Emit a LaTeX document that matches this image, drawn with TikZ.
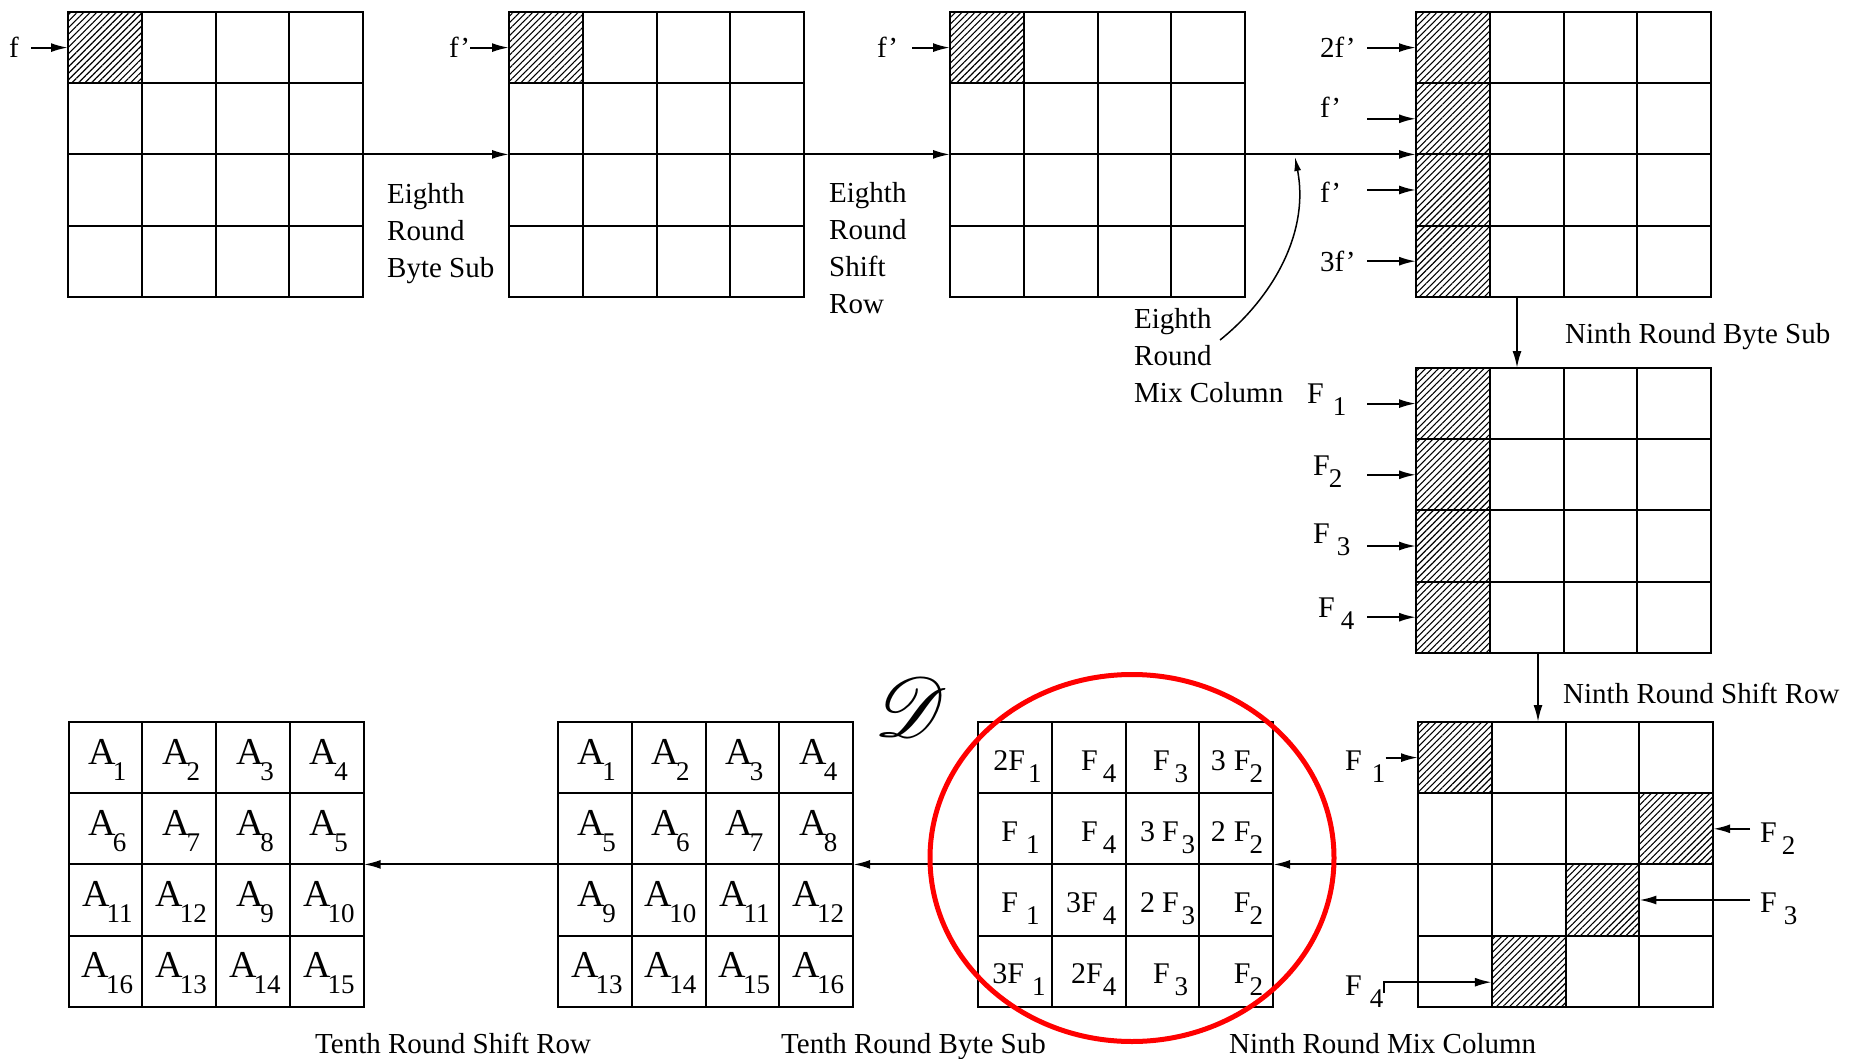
\documentclass[tikz,border=0pt]{standalone}
\usepackage{fontspec}
\setmainfont{Liberation Serif}
\usepackage{mathrsfs}
\usetikzlibrary{arrows.meta,patterns.meta,shapes.geometric,fit}
\newcommand\Fs[3][5pt]{#2\kern#1\raisebox{-12pt}[0pt][0pt]{\fontsize{27}{27}\selectfont #3}}
\newcommand\As[1]{A\kern-3pt\raisebox{-16pt}[0pt][0pt]{\fontsize{27}{27}\selectfont #1}}
\newcommand\mkgrid[3]{%
  \foreach \ri in {1,...,4}{\foreach \ci in {1,...,4}{%
    \node[cellbox] (#1-\ri-\ci) at ({#2+(\ci-0.5)*73.8},{#3+(\ri-0.5)*71.2}) {};}}%
  \node[fit=(#1-1-1)(#1-4-4), inner sep=0pt, outer sep=0pt] (#1) {};}
\begin{document}
\begin{tikzpicture}[x=1pt,y=-1pt,
  cellbox/.style={draw, line width=2pt, minimum width=73.8pt, minimum height=71.2pt, inner sep=0pt, outer sep=0pt},
  hatch/.style={pattern={Lines[angle=45,distance=4.6pt,line width=1.1pt]}},
  arr/.style={line width=2pt, -{Latex[length=17pt,width=9pt]}},
  thinarr/.style={line width=1.5pt, -{Latex[length=14pt,width=7pt]}},
  lbl/.style={font=\fontsize{29}{37}\selectfont, inner sep=0pt},
  flbl/.style={font=\fontsize{30}{30}\selectfont, inner sep=0pt},
  albl/.style={font=\fontsize{38}{38}\selectfont, inner sep=0pt},
  ring/.style={draw=red, line width=5pt, ellipse, inner sep=0pt}]
\useasboundingbox (0,0) rectangle (1849,1059);
% grids
\mkgrid{g1}{68}{12}
\mkgrid{g2}{509}{12}
\mkgrid{g3}{950}{12}
\mkgrid{g4}{1416}{12}
\mkgrid{g5}{1416}{368}
\mkgrid{g6}{1418}{722}
\mkgrid{g7}{978}{722}
\mkgrid{g8}{558}{722}
\mkgrid{g9}{68.5}{722}
% hatched cells
\foreach \n in {g1-1-1,g2-1-1,g3-1-1,g4-1-1,g4-2-1,g4-3-1,g4-4-1,g5-1-1,g5-2-1,g5-3-1,g5-4-1,g6-1-1,g6-2-4,g6-3-3,g6-4-2}
  \draw[hatch, line width=2pt] (\n.north west) rectangle (\n.south east);
% main connectors
\draw[arr] (g1.east) -- (g2.west);
\draw[arr] (g2.east) -- (g3.west);
\draw[arr] (g3.east) -- (g4.west);
\draw[arr] ([xshift=-46.6pt]g4.south) -- ([xshift=-46.6pt]g4.south |- g5.north);
\draw[arr] ([xshift=-25.6pt]g5.south) -- ([xshift=-25.6pt]g5.south |- g6.north);
\draw[arr] (g6.west) -- (g7.east);
\draw[arr] (g7.west) -- (g8.east);
\draw[arr] (g8.west) -- (g9.east);
% top inputs
\node[lbl, anchor=base] (f0) at (14,58) {f};
\draw[arr, shorten <=12pt] (f0.east |- g1-1-1.west) -- (g1-1-1.west);
\node[lbl, anchor=base west] (f1) at (449,58) {f’};
\draw[arr] (f1.east |- g2-1-1.west) -- (g2-1-1.west);
\node[lbl, anchor=base west] (f2) at (877,58) {f’};
\draw[arr, shorten <=14pt] (f2.east |- g3-1-1.west) -- (g3-1-1.west);
% grid 4 inputs
\node[lbl, anchor=base west] (m1) at (1320,58) {2f’};
\node[lbl, anchor=base west] (m2) at (1320,118) {f’};
\node[lbl, anchor=base west] (m3) at (1320,203) {f’};
\node[lbl, anchor=base west] (m4) at (1320,272) {3f’};
\foreach \ri in {1,...,4}
  \draw[arr] ([xshift=-49pt]g4-\ri-1.west) -- (g4-\ri-1.west);
% grid 5 inputs
\node[flbl, anchor=base west] (n1) at (1307,403) {\Fs[9pt]{F}{1}};
\node[flbl, anchor=base west] (n2) at (1313,475) {\Fs[-1pt]{F}{2}};
\node[flbl, anchor=base west] (n3) at (1313,543) {\Fs[7pt]{F}{3}};
\node[flbl, anchor=base west] (n4) at (1318,617) {\Fs[6pt]{F}{4}};
\foreach \ri in {1,...,4}
  \draw[arr] ([xshift=-49pt]g5-\ri-1.west) -- (g5-\ri-1.west);
% grid 6 inputs
\node[flbl, anchor=base west] (p1) at (1345,770) {\Fs[10pt]{F}{1}};
\draw[arr] (p1.east |- g6-1-1.west) -- (g6-1-1.west);
\node[flbl, anchor=base west] (p2) at (1760,842) {\Fs[5pt]{F}{2}};
\draw[arr] ([xshift=-10pt]p2.west |- g6-2-4.east) -- (g6-2-4.east);
\node[flbl, anchor=base west] (p3) at (1760,912) {\Fs[7pt]{F}{3}};
\draw[arr] ([xshift=-10pt]p3.west |- g6-3-3.east) -- (g6-3-3.east);
\node[flbl, anchor=base west] (p4) at (1345,995) {\Fs[8pt]{F}{4}};
\draw[arr] ([yshift=-8pt]p4.east) |- ([yshift=-11pt]g6-4-2.west);
% text labels
\node[lbl, align=left, anchor=north west] (t1) at (387,183) {Eighth\\Round\\Byte Sub};
\node[lbl, align=left, anchor=north west] (t2) at (829,182) {Eighth\\Round\\Shift\\Row};
\node[lbl, align=left, anchor=north west] (t3) at (1134,308) {Eighth\\Round\\Mix Column};
\node[lbl, anchor=base west] (t4) at (1565,343) {Ninth Round Byte Sub};
\node[lbl, anchor=base west] (t5) at (1563,703) {Ninth Round Shift Row};
\node[lbl, anchor=base west] (t6) at (315,1053) {Tenth Round Shift Row};
\node[lbl, anchor=base west] (t7) at (781,1053) {Tenth Round Byte Sub};
\node[lbl, anchor=base west] (t8) at (1229,1053) {Ninth Round Mix Column};
% curved arrow
\coordinate (mixstart) at (1220,340);
\coordinate (mixend) at (1295,157);
\draw[thinarr] (mixstart) .. controls (1270,300) and (1310,235) .. (mixend);
% A grid labels
\foreach \ri/\ci/\t in {1/1/1,1/2/2,1/3/3,1/4/4,2/1/6,2/2/7,2/3/8,2/4/5,3/1/11,3/2/12,3/3/9,3/4/10,4/1/16,4/2/13,4/3/14,4/4/15}
  \node[albl, anchor=base] (g9-\ri-\ci-t) at ([xshift=2pt,yshift=-6.4pt]g9-\ri-\ci.center) {\As{\t}};
\foreach \ri/\ci/\t in {1/1/1,1/2/2,1/3/3,1/4/4,2/1/5,2/2/6,2/3/7,2/4/8,3/1/9,3/2/10,3/3/11,3/4/12,4/1/13,4/2/14,4/3/15,4/4/16}
  \node[albl, anchor=base] (g8-\ri-\ci-t) at ([xshift=2pt,yshift=-6.4pt]g8-\ri-\ci.center) {\As{\t}};
% F grid labels
\foreach \ri/\ci/\o/\t in {1/1/10/{\Fs[3pt]{2F}{1}},1/2/9/{\Fs{F}{4}},1/3/11/{\Fs{F}{3}},1/4/10/{\Fs[-1pt]{3\kern8pt F}{2}},
  2/1/12/{\Fs[8pt]{F}{1}},2/2/9/{\Fs{F}{4}},2/3/4/{\Fs[3pt]{3\kern7pt F}{3}},2/4/10/{\Fs[-1pt]{2\kern8pt F}{2}},
  3/1/12/{\Fs[8pt]{F}{1}},3/2/9/{\Fs{3F}{4}},3/3/4/{\Fs[3pt]{2\kern7pt F}{3}},3/4/10/{\Fs[-1pt]{F}{2}},
  4/1/6/{\Fs[8pt]{3F}{1}},4/2/9/{\Fs[0pt]{2F}{4}},4/3/11/{\Fs{F}{3}},4/4/10/{\Fs[-1pt]{F}{2}}}
  \node[flbl, anchor=base east] (g7-\ri-\ci-t) at ([xshift=-\o pt,yshift=-12.4pt]g7-\ri-\ci.east) {\t};
% script D and red ring
\node[inner sep=0pt] (dsym) at (911,707) {\resizebox{73pt}{!}{$\mathscr{D}$}};
\node[ring, minimum width=404pt, minimum height=367pt] (ring) at (1132,858) {};
\end{tikzpicture}
\end{document}
